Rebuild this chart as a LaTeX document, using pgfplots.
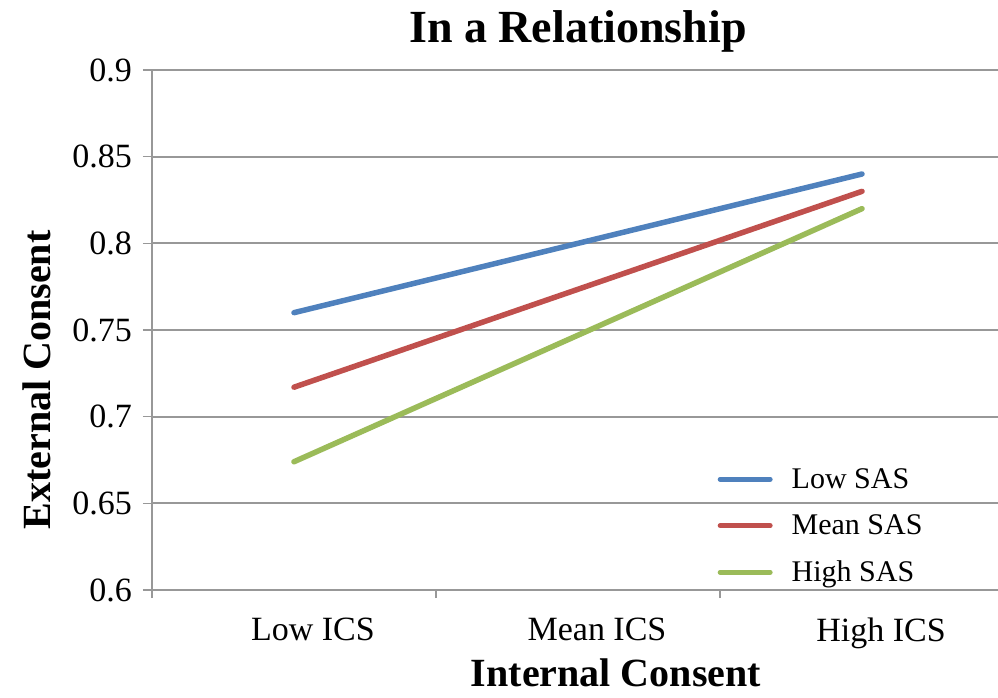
\documentclass[border=0pt]{standalone}
\usepackage{pgfplots}
\pgfplotsset{compat=1.18}
\usepackage{fontspec}
\setmainfont{Liberation Serif}
\definecolor{sasblue}{HTML}{4F81BD}
\definecolor{sasred}{HTML}{C0504D}
\definecolor{sasgreen}{HTML}{9BBB59}
\definecolor{gridgray}{HTML}{989898}
\begin{document}
\begin{tikzpicture}
\useasboundingbox (0pt,0pt) rectangle (998pt,697pt);
\begin{axis}[
  scale only axis, width=852pt, height=520pt,
  at={(152pt,107pt)}, anchor=south west,
  xmin=-0.5, xmax=2.5, ymin=0.6, ymax=0.9,
  axis x line=bottom, axis y line=left,
  axis line style={-, draw=gridgray, line width=2pt},
  ytick={0.6,0.65,0.7,0.75,0.8,0.85,0.9},
  yticklabels={0.6,0.65,0.7,0.75,0.8,0.85,0.9},
  xtick={0,1,2}, xticklabels={Low ICS,Mean ICS,High ICS},
  minor xtick={-0.5,0.5,1.5,2.5},
  tick align=outside,
  major tick length=9pt, minor tick length=8pt,
  major x tick style={draw=none},
  minor x tick style={draw=gridgray, line width=1.5pt},
  major y tick style={draw=gridgray, line width=1.5pt},
  ymajorgrids,
  major grid style={draw=gridgray, line width=2pt},
  yticklabel style={font=\fontsize{34}{40}\selectfont, inner sep=0pt, anchor=east, xshift=-11pt},
  xticklabel style={font=\fontsize{34}{40}\selectfont, inner sep=0pt, anchor=north, xshift=19pt, yshift=-19pt},
  title={In a Relationship},
  title style={font=\fontsize{46}{52}\selectfont\bfseries, inner sep=0pt, anchor=base, at={(axis description cs:0.5,1.0404)}},
  xlabel={Internal Consent},
  xlabel style={font=\fontsize{40}{46}\selectfont\bfseries, inner sep=0pt, anchor=base, at={(axis description cs:0.5446,-0.186)}},
  ylabel={External Consent},
  ylabel style={font=\fontsize{40}{46}\selectfont\bfseries, inner sep=0pt, anchor=base, rotate=0, at={(axis description cs:-0.1197,0.404)}},
  legend style={draw=none, fill=none, inner sep=0pt, at={(axis description cs:0.6637,0.2365)}, anchor=north west,
    font=\fontsize{30}{36}\selectfont, row sep=22.5pt, column sep=19pt,
    nodes={inner sep=0pt, text height=21pt, text depth=3pt}},
  legend cell align=left,
  legend image code/.code={\draw[#1, line width=5pt, line cap=round] (0pt,0pt) -- (50pt,0pt);},
]
\addplot[sasblue, line width=5.5pt, line cap=round] coordinates {(0,0.760) (2,0.840)};
\addlegendentry{Low SAS}
\addplot[sasred, line width=5.5pt, line cap=round] coordinates {(0,0.717) (2,0.830)};
\addlegendentry{Mean SAS}
\addplot[sasgreen, line width=5.5pt, line cap=round] coordinates {(0,0.674) (2,0.820)};
\addlegendentry{High SAS}
\end{axis}
\end{tikzpicture}
\end{document}
